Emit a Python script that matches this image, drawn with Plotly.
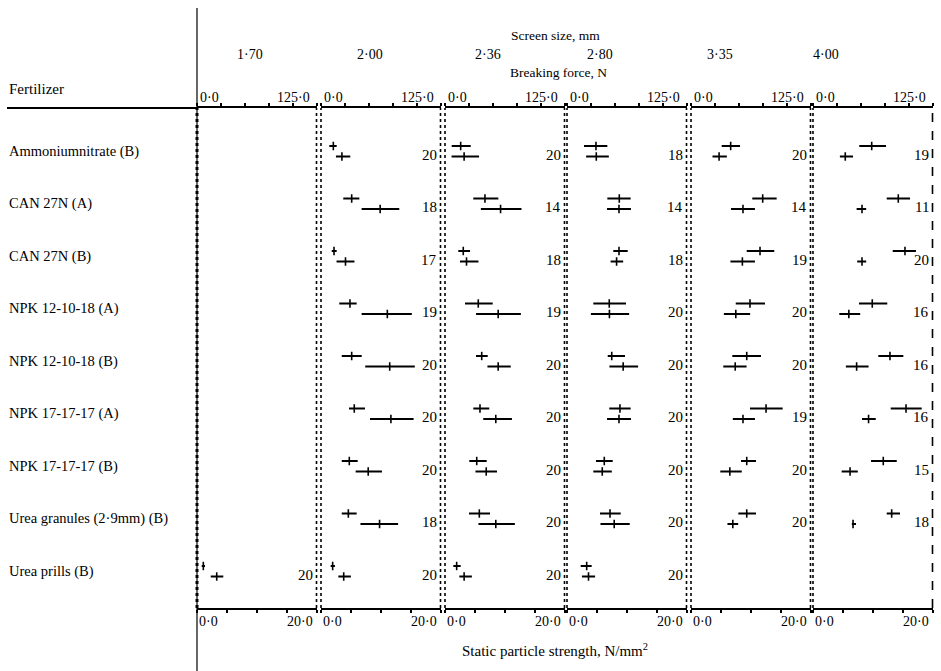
import plotly.graph_objects as go

W, H = 941, 671

fertilizers = ["Ammoniumnitrate (B)", "CAN 27N (A)", "CAN 27N (B)", "NPK 12-10-18 (A)",
               "NPK 12-10-18 (B)", "NPK 17-17-17 (A)", "NPK 17-17-17 (B)",
               "Urea granules (2·9mm) (B)", "Urea prills (B)"]
screen_sizes = ["1·70", "2·00", "2·36", "2·80", "3·35", "4·00"]
N = None

# Breaking force, N (upper bar of each row) - one list per screen size
force_mean = [
    [N, N, N, N, N, N, N, N, 6.6],
    [12.9, 32.1, 13.6, 30.3, 32.1, 34.8, 29.6, 28.6, 12.2],
    [16.4, 41.8, 19.1, 34.8, 38.4, 36.6, 33.2, 35.9, 12.2],
    [30.3, 54.7, 54.4, 44.2, 46.8, 55.4, 39.0, 45.0, 20.6],
    [41.5, 75.0, 72.2, 61.7, 58.3, 78.5, 58.3, 58.3, N],
    [61.4, 89.2, 96.2, 62.0, 80.5, 97.3, 73.5, 82.3, N],
]
force_low = [
    [N, N, N, N, N, N, N, N, 4.9],
    [8.7, 23.3, 11.2, 19.1, 21.7, 29.3, 21.7, 21.7, 10.1],
    [7.0, 29.6, 13.9, 20.9, 32.4, 29.6, 25.4, 25.1, 8.7],
    [17.8, 42.2, 48.4, 27.5, 42.6, 44.2, 30.3, 34.5, 14.3],
    [32.1, 64.1, 58.3, 46.8, 43.2, 61.7, 52.3, 49.5, N],
    [48.4, 77.1, 83.4, 48.1, 68.3, 81.3, 60.7, 77.1, N],
]
force_high = [
    [N, N, N, N, N, N, N, N, 8.4],
    [16.4, 40.1, 16.4, 37.3, 42.6, 46.0, 38.4, 37.3, 14.6],
    [26.9, 55.8, 26.2, 49.9, 44.7, 46.3, 43.6, 47.1, 16.4],
    [42.2, 66.6, 63.5, 61.7, 60.7, 66.6, 47.8, 56.2, 25.8],
    [51.3, 89.6, 87.1, 77.4, 73.2, 95.9, 68.0, 68.0, N],
    [76.4, 101.5, 107.7, 77.7, 94.5, 113.7, 87.6, 91.0, N],
]

# Static particle strength, N/mm2 (lower bar of each row)
strength_mean = [
    [N, N, N, N, N, N, N, N, 3.3],
    [3.5, 9.9, 4.1, 11.1, 11.5, 11.7, 7.9, 9.8, 3.8],
    [3.2, 9.3, 3.6, 8.9, 8.9, 8.5, 6.9, 8.5, 3.2],
    [4.9, 8.7, 8.3, 7.1, 9.4, 8.7, 5.9, 7.9, 3.6],
    [4.7, 8.7, 8.6, 7.5, 7.4, 8.7, 6.5, 7.0, N],
    [5.4, 8.2, 8.2, 6.0, 7.3, 9.3, 6.2, 6.7, N],
]
strength_low = [
    [N, N, N, N, N, N, N, N, 2.3],
    [2.5, 6.8, 2.6, 6.8, 7.4, 8.2, 5.8, 6.6, 2.9],
    [1.1, 6.0, 2.5, 5.2, 7.1, 6.4, 5.1, 5.6, 2.4],
    [3.2, 6.7, 7.3, 4.0, 7.1, 6.7, 4.4, 5.6, 2.5],
    [3.6, 6.7, 6.6, 5.5, 5.4, 7.0, 4.9, 6.1, N],
    [4.5, 7.3, 7.4, 4.4, 5.5, 8.2, 4.8, 6.5, N],
]
strength_high = [
    [N, N, N, N, N, N, N, N, 4.4],
    [4.9, 13.1, 5.6, 15.2, 15.7, 15.5, 10.2, 12.9, 5.0],
    [5.7, 12.8, 5.6, 12.7, 11.0, 11.2, 8.7, 11.7, 4.5],
    [7.0, 10.7, 9.4, 10.4, 11.9, 10.7, 7.5, 10.5, 4.7],
    [6.0, 10.7, 10.7, 9.9, 9.3, 10.7, 8.5, 7.9, N],
    [6.7, 8.9, 8.9, 7.9, 9.3, 10.5, 7.5, 7.2, N],
]

counts = [
    [N, N, N, N, N, N, N, N, 20],
    [20, 18, 17, 19, 20, 20, 20, 18, 20],
    [20, 14, 18, 19, 20, 20, 20, 20, 20],
    [18, 14, 18, 20, 20, 20, 20, 20, 20],
    [20, 14, 19, 20, 20, 19, 20, 20, N],
    [19, 11, 20, 16, 16, 16, 15, 18, N],
]

force_ticks = [0, 25, 50, 75, 100, 125]
strength_ticks = [0, 5, 10, 15, 20]

# ---------------- layout geometry (pixels) ----------------
FONT = "Liberation Serif"
def px(x):
    return x / W
def py(y):
    return 1 - y / H
def axname(n):
    return "x" if n == 1 else f"x{n}"

panel_start = [197, 321, 445, 567, 691, 813]
panel_w = 119.5
top_y, bot_y = 108, 608
row0_y, row_step = 151.25, 52.5
y_top_val = (top_y - row0_y) / row_step
y_bot_val = (bot_y - row0_y) / row_step
off = 5.25 / row_step

fig = go.Figure()
layout = dict(
    width=W, height=H, margin=dict(l=0, r=0, t=0, b=0),
    paper_bgcolor="white", plot_bgcolor="rgba(0,0,0,0)", showlegend=False,
    font=dict(family=FONT, size=14, color="black"),
    yaxis=dict(domain=[py(bot_y), py(top_y)], range=[y_bot_val, y_top_val],
               visible=False, fixedrange=True, anchor="x"),
)
annotations = []
shapes = []

for k in range(6):
    xb = axname(2 * k + 1)
    xt = axname(2 * k + 2)
    dom = [px(panel_start[k]), px(panel_start[k] + panel_w)]
    layout["xaxis" if k == 0 else f"xaxis{2*k+1}"] = dict(
        domain=dom, range=[0, 20], anchor="y", side="bottom",
        showline=True, linewidth=2, linecolor="black", showgrid=False, zeroline=False,
        ticks="outside", ticklen=3, tickwidth=1.5, tickcolor="black",
        tickvals=strength_ticks, showticklabels=False)
    layout[f"xaxis{2*k+2}"] = dict(
        domain=dom, range=[0, 125], anchor="y", side="top", overlaying=xb,
        showline=True, linewidth=2, linecolor="black", showgrid=False, zeroline=False,
        ticks="outside", ticklen=3, tickwidth=1.5, tickcolor="black",
        tickvals=force_ticks, showticklabels=False)

    rows_f = [i for i in range(len(fertilizers)) if force_mean[k][i] is not None]
    if rows_f:
        fig.add_trace(go.Scatter(
            x=[force_mean[k][i] for i in rows_f],
            y=[i - off for i in rows_f],
            xaxis=xt, yaxis="y", mode="markers",
            marker=dict(symbol="line-ns", size=6, line=dict(width=1.6, color="black"), color="black"),
            error_x=dict(type="data", symmetric=False,
                         array=[force_high[k][i] - force_mean[k][i] for i in rows_f],
                         arrayminus=[force_mean[k][i] - force_low[k][i] for i in rows_f],
                         thickness=2, width=0, color="black"),
            hoverinfo="skip"))
    rows_s = [i for i in range(len(fertilizers)) if strength_mean[k][i] is not None]
    if rows_s:
        fig.add_trace(go.Scatter(
            x=[strength_mean[k][i] for i in rows_s],
            y=[i + off for i in rows_s],
            xaxis=xb, yaxis="y", mode="markers",
            marker=dict(symbol="line-ns", size=6, line=dict(width=1.6, color="black"), color="black"),
            error_x=dict(type="data", symmetric=False,
                         array=[strength_high[k][i] - strength_mean[k][i] for i in rows_s],
                         arrayminus=[strength_mean[k][i] - strength_low[k][i] for i in rows_s],
                         thickness=2, width=0, color="black"),
            hoverinfo="skip"))

    # counts
    for i in range(len(fertilizers)):
        if counts[k][i] is not None:
            annotations.append(dict(
                x=1, xref=f"{xb} domain", y=i + 0.07, yref="y",
                text=str(counts[k][i]), showarrow=False, xanchor="right", yanchor="middle",
                xshift=-2, font=dict(size=15)))

    # tick labels
    annotations.append(dict(x=0, xref=xt, y=py(97), yref="paper", text="0·0",
                            showarrow=False, xanchor="left", yanchor="middle", xshift=1))
    annotations.append(dict(x=125, xref=xt, y=py(97), yref="paper", text="125·0",
                            showarrow=False, xanchor="right", yanchor="middle", xshift=-5))
    annotations.append(dict(x=0, xref=xb, y=py(621), yref="paper", text="0·0",
                            showarrow=False, xanchor="left", yanchor="middle", xshift=0))
    annotations.append(dict(x=20, xref=xb, y=py(621), yref="paper", text="20·0",
                            showarrow=False, xanchor="right", yanchor="middle", xshift=-2))

    # dotted panel borders
    lw = 3 if k == 0 else 1.6
    shapes.append(dict(type="line", xref=f"{xb} domain", x0=0, x1=0, yref="y domain", y0=0, y1=1,
                       line=dict(color="black", width=lw, dash="dot")))
    shapes.append(dict(type="line", xref=f"{xb} domain", x0=1, x1=1, yref="y domain", y0=0, y1=1,
                       line=dict(color="black", width=1.6, dash="dot" if k < 5 else "dash")))

# screen-size headings
size_x = [250, 370, 488, 600, 720, 826]
for k, s in enumerate(screen_sizes):
    annotations.append(dict(x=px(size_x[k]), xref="paper", y=py(54), yref="paper", text=s,
                            showarrow=False, xanchor="center", yanchor="middle"))

annotations += [
    dict(x=px(555), y=py(36), xref="paper", yref="paper", text="Screen size, mm",
         showarrow=False, xanchor="center", yanchor="middle", font=dict(size=13.5)),
    dict(x=px(558), y=py(72), xref="paper", yref="paper", text="Breaking force, N",
         showarrow=False, xanchor="center", yanchor="middle", font=dict(size=13.5)),
    dict(x=px(7), y=py(89), xref="paper", yref="paper", text="Fertilizer",
         showarrow=False, xanchor="left", yanchor="middle", font=dict(size=15)),
    dict(x=px(555), y=py(650), xref="paper", yref="paper", text="Static particle strength, N/mm<sup>2</sup>",
         showarrow=False, xanchor="center", yanchor="middle", font=dict(size=15)),
]
for i, name in enumerate(fertilizers):
    annotations.append(dict(x=px(7), xref="paper", y=i, yref="y", text=name,
                            showarrow=False, xanchor="left", yanchor="middle", font=dict(size=14.5)))

# frame lines
shapes.append(dict(type="line", xref="paper", yref="paper", x0=px(7), x1=px(197),
                   y0=py(top_y), y1=py(top_y), line=dict(color="black", width=2)))
shapes.append(dict(type="line", xref="paper", yref="paper", x0=px(197), x1=px(197),
                   y0=py(8), y1=py(671), line=dict(color="black", width=1.2)))

layout["annotations"] = annotations
layout["shapes"] = shapes
fig.update_layout(**layout)
fig.write_html("out.html")
